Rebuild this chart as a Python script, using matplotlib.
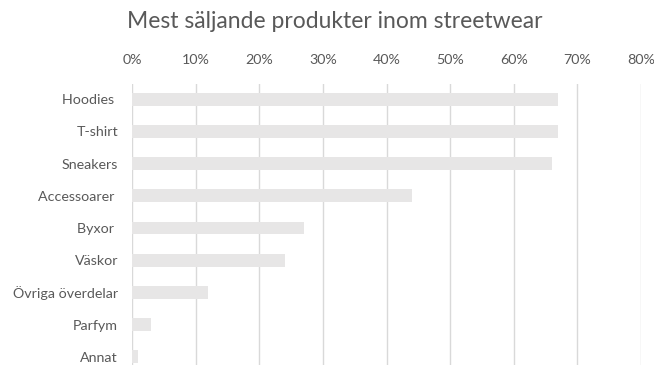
import matplotlib
matplotlib.use("Agg")
import matplotlib.pyplot as plt
from matplotlib.ticker import PercentFormatter

categories = ["Hoodies ", "T-shirt", "Sneakers", "Accessoarer ", "Byxor ", "Väskor",
              "Övriga överdelar", "Parfym", "Annat"]
values = [0.67, 0.67, 0.66, 0.44, 0.27, 0.24, 0.12, 0.03, 0.01]
xticks = [0, 0.1, 0.2, 0.3, 0.4, 0.5, 0.6, 0.7, 0.8]
title = "Mest säljande produkter inom streetwear"

plt.rcParams['font.family'] = ['Lato', 'DejaVu Sans']

fig = plt.figure(figsize=(6.54, 3.69), dpi=100)
ax = fig.add_axes([132/654, 1 - 365/369, 509/654, (365 - 84)/369])

ypos = list(range(len(categories)))
ax.barh(ypos, values, height=0.4, color="#E7E6E6", zorder=2)
ax.set_ylim(8.25, -0.47)
ax.set_xlim(0, 0.8)
ax.set_xticks(xticks)
ax.xaxis.set_major_formatter(PercentFormatter(1.0, decimals=0))
ax.xaxis.tick_top()
ax.set_yticks(ypos)
ax.set_yticklabels(categories)
ax.grid(axis='x', color="#D9D9D9", linewidth=1.0, zorder=0)
for s in ax.spines.values():
    s.set_visible(False)
ax.tick_params(axis='both', length=0, colors="#595959", labelsize=10.3)
ax.tick_params(axis='x', pad=13)
ax.tick_params(axis='y', pad=10)

fig.text(335/654, 1 - 22/369, title, ha='center', va='center', fontsize=16.5, color="#595959")

fig.savefig("out.png", dpi=100)
